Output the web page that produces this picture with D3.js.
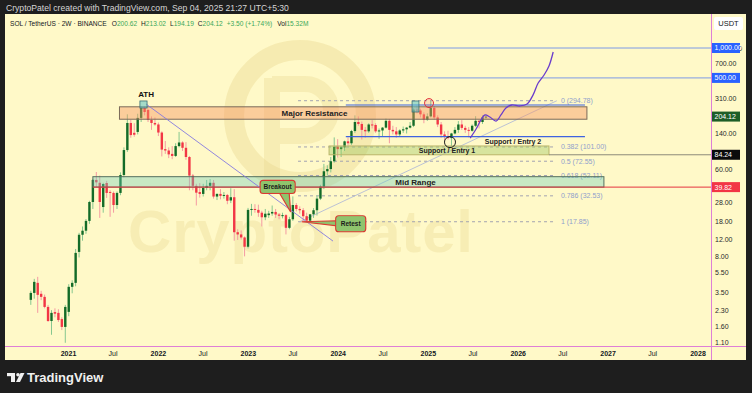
<!DOCTYPE html>
<html>
<head>
<meta charset="utf-8">
<script src="https://cdn.jsdelivr.net/npm/d3@7"></script>
<style>
html, body { margin: 0; padding: 0; background: #1e1e1e; }
svg { display: block; font-family: "Liberation Sans", Arial, sans-serif; }
</style>
</head>
<body>
<svg id="chart" width="752" height="393"></svg>
<script>
// SOL / USDT, 2 week bars
var firstBar = "2020-08-03";
var opens = [2.92,3.43,4.33,3.36,3.13,2.48,1.79,2.2,2.16,1.87,1.56,2.21,3.95,4.33,8.87,13.2,14.5,18.2,28.2,47,
  44,25.1,43.8,35.6,34.8,26.3,34.8,52.7,94,176,140,143,198,249,238,189,176,170,141,96,
  93,86,82,103,112,99,80,52,41,35.5,34,39,41,44,32,34,32.5,33.2,29.2,31.5,
  14,13.3,12.4,10,23.5,24,23.5,22,19.8,20.8,21.6,22.4,21.1,20.5,20.8,15.5,18.9,26.3,24,23.3,
  20.3,18.3,21.2,23.3,30.5,40.3,57.5,60.5,72.5,102,96,100,115,110,146,180,172,150,145,170,
  168,145,148,158,185,150,145,135,148,152,158,165,240,235,215,190,205,250,200,170,
  135,128,124,138,150,170,157,150,147,165,185,180,200.62];
var highs = [3.6,4.75,4.98,3.6,3.3,2.6,2.3,2.4,2.35,1.95,2.6,4.2,4.6,9.5,13.8,16,19,29,48,56.5,
  52,44,46,37,36,36,56,100,215,190,175,218,260,259,245,205,200,178,145,116,
  100,103,110,143,115,113,82,54,43,43.7,43,47,48,47,34.5,38,35.5,34,38.8,38,
  15,14.6,12.7,24.6,27,26.8,26.5,23,24,23,26,24,21.8,22,21.3,20,32.1,27.5,25.5,24.5,
  22,21.4,24.5,32.7,42,68.2,66,80,126,121,103,117,126,150,210,205,182,160,175,188,
  175,155,160,195,193,165,160,152,162,160,180,248,264,245,225,220,295,260,210,180,
  145,147,140,160,184,188,165,160,170,206,190,210,213.02];
var lows = [2.6,3.0,2.16,2.9,2.4,1.75,1.3,1.95,1.75,1.45,1.08,2.0,3.4,4.0,7.8,11.5,13.5,17,24,40,
  19.5,22,31,20,22,24,33,50,90,125,128,135,180,210,180,150,165,130,81,86,
  78,76,80,100,92,75,37,37,26,31.2,32,37,37,30.5,29.5,30,30.5,26.8,27.5,11.5,
  11.7,11.8,8,9.6,20.5,22,20,16,18.5,19.5,20.5,19.5,18.9,19.3,13.3,15,18.2,22.7,21.5,17.5,
  17.85,18,19.5,20.6,29.5,38,52,56,70,79,80,92,104,106,140,165,120,125,140,155,
  140,122,130,155,110,135,125,128,140,138,155,160,220,200,175,185,200,190,160,125,
  118,120,103,135,140,150,140,126,144,160,155,172,194.19];
var closes = [3.43,4.43,3.28,3.13,2.48,1.79,2.16,2.12,1.83,1.56,2.48,3.95,4.33,8.67,13.2,14.5,18.2,28.2,47,44.5,
  28.2,42.8,34.8,34.8,26.3,34.8,52.7,94,176,133,134,198,249,227,189,176,170,141,95,93,
  85,82,103,112,99,80,52,41,35,34,39,41,44,32,34,32.5,33.2,29,31.5,14,
  13.3,12.4,10,23.5,24,23.5,22,19.8,21.5,21.6,22.4,21.1,20.5,20.8,15.5,18.9,26.3,24,23.3,20.3,
  18.3,21.2,23.3,30.5,40.3,57.5,60.5,72.5,101.5,96,100,115,110,146,180,172,150,145,170,168,
  145,148,158,185,150,145,135,148,152,158,165,240,235,215,190,205,250,200,170,135,
  128,124,138,150,170,157,150,147,165,185,180,200.62,204.12];

// price axis
var priceTicks = [1000, 700, 500, 310, 140, 60, 28, 18, 12, 8, 5.5, 3.5, 2.3, 1.6, 1.1];
var priceBadges = [1000, 500, 204.12, 84.24, 39.82];
var badgeColors = ["#2962ff", "#2962ff", "#1d5e27", "#0b0b0b", "#f23645"];
// time axis
var timeTicks = ["2021-01-01","2021-07-01","2022-01-01","2022-07-01","2023-01-01","2023-07-01","2024-01-01",
  "2024-07-01","2025-01-01","2025-07-01","2026-01-01","2026-07-01","2027-01-01","2027-07-01","2028-01-01"];

// fibonacci retracement
var fibLevels = [0, 0.382, 0.5, 0.618, 0.786, 1];
var fibPrices = [294.78, 101.00, 72.55, 52.11, 32.53, 17.85];
var fibFrom = "2023-07-24", fibTo = "2026-06-01";

// zones: name, from, to, top price, bottom price
var zoneNames = ["Major Resistance", "Mid Range", "Support / Entry 1"];
var zoneFrom = ["2021-07-29", "2021-04-12", "2023-11-27"];
var zoneTo = ["2026-10-09", "2026-12-17", "2026-05-08"];
var zoneTop = [256, 50.7, 103.3];
var zoneBottom = [192, 39.82, 84.24];
var zoneLabelAt = ["2023-09-29", "2024-11-12", "2025-03-20"];
var zoneLabelPrice = [222, 44.8, 92.5];

// blue support lines
var blueFrom = "2024-02-03", blueTo = "2026-10-01";
var bluePrices = [267, 128];
var targetFrom = "2025-01-02";
var targetPrices = [1000, 500];

// projected path
var projDates = ["2025-06-22","2025-07-16","2025-08-05","2025-08-21","2025-09-10","2025-10-05","2025-10-25",
  "2025-11-14","2025-12-08","2026-01-10","2026-02-08","2026-03-04","2026-03-25","2026-04-18","2026-05-08","2026-05-25"];
var projPrices = [124, 153, 189, 212, 202, 184, 212, 249, 267, 261, 273, 336, 444, 535, 659, 911];

// ATH trendline
var trendDates = ["2021-11-14", "2023-12-13"];
var trendPrices = [273, 11.4];

var parse = d3.timeParse("%Y-%m-%d");
var svg = d3.select("#chart");

var x = d3.scaleTime().domain([parse("2021-01-01"), parse("2028-01-01")]).range([68, 697.5]);
var y = d3.scaleLog().domain([1.1, 1000]).range([342, 48]);

var plotL = 5, plotT = 14, plotR = 711, plotB = 346, panelR = 746, panelB = 360;

// frame
svg.append("text").attr("x", 6).attr("y", 11).attr("fill", "#d6d6d6").attr("font-size", 8.6)
  .text("CryptoPatel created with TradingView.com, Sep 04, 2025 21:27 UTC+5:30");
svg.append("rect").attr("x", plotL).attr("y", plotT).attr("width", panelR - plotL).attr("height", panelB - plotT)
  .attr("fill", "#fff9c8");

svg.append("defs").append("clipPath").attr("id", "clip")
  .append("rect").attr("x", plotL).attr("y", plotT).attr("width", plotR - plotL).attr("height", plotB - plotT);
var plot = svg.append("g").attr("clip-path", "url(#clip)");

// watermark
var wm = plot.append("g").attr("fill", "none");
wm.append("circle").attr("cx", 300).attr("cy", 116).attr("r", 66)
  .attr("stroke", "#e9d88f").attr("stroke-opacity", 0.4).attr("stroke-width", 20);
wm.append("path").attr("d", "M272,78 L272,182 M272,84 L305,84 A26,26 0 0 1 305,136 L272,136")
  .attr("stroke", "#e9d88f").attr("stroke-opacity", 0.35).attr("stroke-width", 16);
plot.append("text").attr("x", 128).attr("y", 252).attr("font-size", 60).attr("font-weight", "bold")
  .attr("textLength", 345).attr("fill", "#e9d88f").attr("fill-opacity", 0.35).text("CryptoPatel");

// fib levels
var fib = plot.append("g");
fibPrices.forEach(function(p, i) {
  fib.append("line").attr("x1", x(parse(fibFrom))).attr("x2", x(parse(fibTo)))
    .attr("y1", y(p)).attr("y2", y(p)).attr("stroke", "#a3a3b0").attr("stroke-dasharray", "3,3");
  fib.append("text").attr("x", x(parse(fibTo)) + 6).attr("y", y(p)).attr("dy", "0.35em")
    .attr("font-size", 7).attr("fill", "#8fa0cc")
    .text(fibLevels[i] + " (" + d3.format(".2f")(p) + ")");
});
plot.append("line").attr("x1", x(parse("2023-07-31"))).attr("y1", y(fibPrices[5]))
  .attr("x2", x(parse("2026-06-09"))).attr("y2", y(fibPrices[0]))
  .attr("stroke", "#aab4d8").attr("stroke-width", 0.8);

// candles
var bars = opens.map(function(o, i) {
  return {date: d3.timeDay.offset(parse(firstBar), 14 * i), o: o, h: highs[i], l: lows[i], c: closes[i]};
});
var bw = 2.4;
var candles = plot.append("g").selectAll("g").data(bars).join("g");
candles.append("line")
  .attr("x1", function(d) { return x(d.date); }).attr("x2", function(d) { return x(d.date); })
  .attr("y1", function(d) { return y(d.h); }).attr("y2", function(d) { return y(d.l); })
  .attr("stroke", function(d) { return d.c >= d.o ? "#86c78f" : "#f59aa2"; }).attr("stroke-width", 1);
candles.append("rect")
  .attr("x", function(d) { return x(d.date) - bw / 2; }).attr("width", bw)
  .attr("y", function(d) { return y(Math.max(d.o, d.c)); })
  .attr("height", function(d) { return Math.max(1, Math.abs(y(d.o) - y(d.c))); })
  .attr("fill", function(d) { return d.c >= d.o ? "#136b28" : "#f23645"; });

// zones
var zoneFills = ["rgba(246,150,100,0.45)", "rgba(110,205,190,0.38)", "rgba(150,195,90,0.38)"];
var zoneStroke = ["#7a6a5a", "#55705f", "#b9b56a"];
zoneNames.forEach(function(n, i) {
  var x0 = x(parse(zoneFrom[i])), x1 = x(parse(zoneTo[i]));
  plot.append("rect").attr("x", x0).attr("y", y(zoneTop[i])).attr("width", x1 - x0)
    .attr("height", y(zoneBottom[i]) - y(zoneTop[i]))
    .attr("fill", zoneFills[i]).attr("stroke", zoneStroke[i]).attr("stroke-width", 1);
});

// horizontal levels
plot.append("line").attr("x1", x(parse(zoneFrom[1]))).attr("x2", plotR)
  .attr("y1", y(39.82)).attr("y2", y(39.82)).attr("stroke", "#e5343f").attr("stroke-width", 1);
plot.append("line").attr("x1", x(parse(zoneTo[2]))).attr("x2", plotR)
  .attr("y1", y(84.24)).attr("y2", y(84.24)).attr("stroke", "#8d8a7a").attr("stroke-width", 1);
bluePrices.forEach(function(p) {
  plot.append("line").attr("x1", x(parse(blueFrom))).attr("x2", x(parse(blueTo)))
    .attr("y1", y(p)).attr("y2", y(p)).attr("stroke", "#3f63e0").attr("stroke-width", 1.2);
});
targetPrices.forEach(function(p) {
  plot.append("line").attr("x1", x(parse(targetFrom))).attr("x2", plotR)
    .attr("y1", y(p)).attr("y2", y(p)).attr("stroke", "#7d9ae6").attr("stroke-width", 1);
});

// trendline from ATH
plot.append("line").attr("x1", x(parse(trendDates[0]))).attr("y1", y(trendPrices[0]))
  .attr("x2", x(parse(trendDates[1]))).attr("y2", y(trendPrices[1]))
  .attr("stroke", "#8479e0").attr("stroke-width", 0.9);

// projection
var proj = projDates.map(function(d, i) { return [x(parse(d)), y(projPrices[i])]; });
plot.append("path").attr("d", d3.line().curve(d3.curveCatmullRom)(proj))
  .attr("fill", "none").attr("stroke", "#6a3ccc").attr("stroke-width", 1.3);

// zone labels
zoneNames.forEach(function(n, i) {
  plot.append("text").attr("x", x(parse(zoneLabelAt[i]))).attr("y", y(zoneLabelPrice[i])).attr("dy", "0.35em")
    .attr("text-anchor", "middle").attr("font-size", i == 2 ? 7 : 8).attr("font-weight", "bold")
    .attr("fill", "#222").text(n);
});
plot.append("text").attr("x", x(parse("2025-12-13"))).attr("y", y(115.6)).attr("dy", "0.35em")
  .attr("text-anchor", "middle").attr("font-size", 7).attr("font-weight", "bold").attr("fill", "#222")
  .text("Support / Entry 2");

// ATH markers
function markBox(d0, d1, p0, p1) {
  plot.append("rect").attr("x", x(parse(d0))).attr("y", y(p0))
    .attr("width", x(parse(d1)) - x(parse(d0))).attr("height", y(p1) - y(p0))
    .attr("fill", "rgba(90,195,200,0.55)").attr("stroke", "#3c6f78").attr("stroke-width", 0.8);
}
markBox("2021-10-20", "2021-11-18", 293, 249);
markBox("2024-10-29", "2024-11-26", 293, 227);
plot.append("text").attr("x", x(parse("2021-11-14"))).attr("y", y(344)).attr("dy", "0.35em")
  .attr("text-anchor", "middle").attr("font-size", 8).attr("font-weight", "bold").attr("fill", "#111").text("ATH");
plot.append("circle").attr("cx", x(parse("2025-01-06"))).attr("cy", y(279)).attr("r", 4.5)
  .attr("fill", "rgba(240,80,80,0.15)").attr("stroke", "#e0323c").attr("stroke-width", 1);
plot.append("circle").attr("cx", x(parse("2025-04-01"))).attr("cy", y(113)).attr("r", 5.5)
  .attr("fill", "none").attr("stroke", "#1a1a1a").attr("stroke-width", 1);

// callouts
function callout(date, price, dx, dy, w, h, label, tail) {
  var tx = x(parse(date)), ty = y(price);
  var bx = tx + dx - w / 2, by = ty + dy - h / 2;
  var g = plot.append("g");
  g.append("path").attr("d", tail(bx, by, w, h, tx, ty))
    .attr("fill", "#8fc46d").attr("stroke", "#d93a32").attr("stroke-width", 1.2);
  g.append("rect").attr("x", bx).attr("y", by).attr("width", w).attr("height", h).attr("rx", 3)
    .attr("fill", "#8fc46d").attr("stroke", "#d93a32").attr("stroke-width", 1.2);
  g.append("rect").attr("x", bx + 0.8).attr("y", by + 0.8).attr("width", w - 1.6).attr("height", h - 1.6)
    .attr("rx", 2.5).attr("fill", "#8fc46d");
  g.append("text").attr("x", bx + w / 2).attr("y", by + h / 2).attr("dy", "0.35em")
    .attr("text-anchor", "middle").attr("font-size", 6.5).attr("font-weight", "bold")
    .attr("fill", "#1b1b1b").text(label);
}
callout("2023-06-24", 22.4, -13, -25, 35, 13, "Breakout", function(bx, by, w, h, tx, ty) {
  return "M" + (bx + w - 16) + "," + (by + h - 1) + " L" + tx + "," + ty + " L" + (bx + w - 6) + "," + (by + h - 1) + "Z";
});
callout("2023-08-08", 17.85, 49, 2, 30, 16, "Retest", function(bx, by, w, h, tx, ty) {
  return "M" + (bx + 1) + "," + (by + 5) + " L" + tx + "," + ty + " L" + (bx + 1) + "," + (by + 10) + "Z";
});

// axes lines
svg.append("line").attr("x1", plotL).attr("x2", panelR).attr("y1", plotB + 0.5).attr("y2", plotB + 0.5)
  .attr("stroke", "#de7fd6");
svg.append("line").attr("x1", plotR + 0.5).attr("x2", plotR + 0.5).attr("y1", plotT).attr("y2", panelB)
  .attr("stroke", "#de7fd6");

// time axis
var xAxis = svg.append("g").attr("transform", "translate(0," + (plotB + 2) + ")")
  .call(d3.axisBottom(x).tickValues(timeTicks.map(parse)).tickSize(0)
    .tickFormat(function(d) { return d.getMonth() == 0 ? d3.timeFormat("%Y")(d) : "Jul"; }));
xAxis.select(".domain").remove();
xAxis.selectAll("text").attr("font-size", 7).attr("fill", "#131722")
  .attr("font-weight", function(d) { return d.getMonth() == 0 ? "bold" : "normal"; })
  .attr("font-family", "Liberation Sans, Arial, sans-serif");

// price axis
var yAxis = svg.append("g").attr("transform", "translate(" + (plotR + 4) + ",0)")
  .call(d3.axisRight(y).tickValues(priceTicks).tickSize(0).tickFormat(d3.format(",.2f")));
yAxis.select(".domain").remove();
yAxis.selectAll("text").attr("x", 0).attr("font-size", 7).attr("fill", "#2a2a2a")
  .attr("font-family", "Liberation Sans, Arial, sans-serif");

priceBadges.forEach(function(p, i) {
  svg.append("rect").attr("x", plotR + 1).attr("y", y(p) - 5).attr("width", 28).attr("height", 10)
    .attr("fill", badgeColors[i]);
  svg.append("text").attr("x", plotR + 3.5).attr("y", y(p)).attr("dy", "0.35em").attr("font-size", 7)
    .attr("fill", "#fff").text(d3.format(",.2f")(p));
});

svg.append("rect").attr("x", 714).attr("y", 17).attr("width", 29).attr("height", 13).attr("rx", 2).attr("fill", "#fff");
svg.append("text").attr("x", 728.5).attr("y", 23.5).attr("dy", "0.35em").attr("text-anchor", "middle")
  .attr("font-size", 7.5).attr("fill", "#131722").text("USDT");

// legend line
var legend = svg.append("text").attr("x", 10).attr("y", 26).attr("font-size", 6.6).attr("fill", "#131722");
var up = "#3aa85a";
var parts = [["SOL / TetherUS · 2W · BINANCE", null, 0], ["O", null, 5], ["200.62", up, 0], ["H", null, 4], ["213.02", up, 0],
  ["L", null, 4], ["194.19", up, 0], ["C", null, 4], ["204.12", up, 0], ["+3.50 (+1.74%)", up, 4], ["Vol", null, 5], ["15.32M", up, 0]];
parts.forEach(function(p) {
  var t = legend.append("tspan").attr("dx", p[2]).text(p[0]);
  if (p[1]) t.attr("fill", p[1]);
});

// footer logo
var logo = svg.append("g").attr("fill", "#f0f0f0");
logo.append("rect").attr("x", 7).attr("y", 373).attr("width", 8).attr("height", 3.2);
logo.append("rect").attr("x", 11).attr("y", 373).attr("width", 4).attr("height", 9);
logo.append("circle").attr("cx", 18).attr("cy", 374.8).attr("r", 1.8);
logo.append("path").attr("d", "M20.5,373 L24.5,373 L20,382 L16,382 Z");
svg.append("text").attr("x", 27).attr("y", 382).attr("font-size", 13).attr("font-weight", "bold")
  .attr("fill", "#f0f0f0").text("TradingView");
</script>
</body>
</html>
